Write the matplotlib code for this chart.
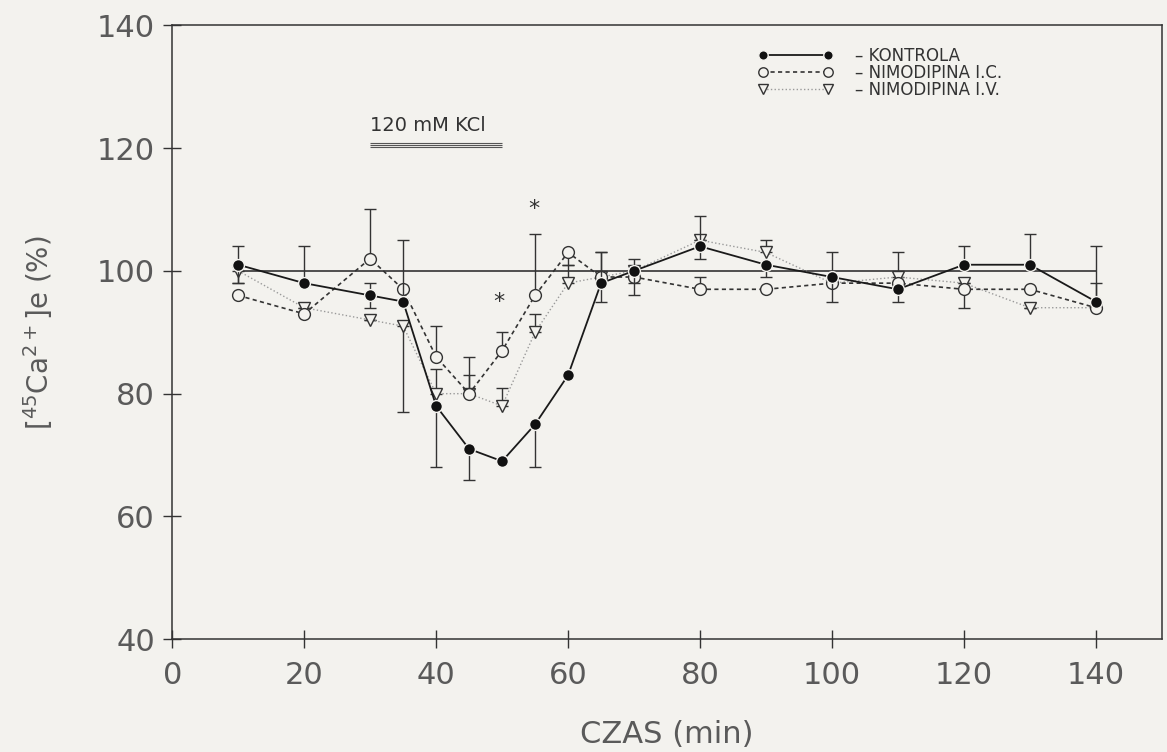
import matplotlib
matplotlib.use("Agg")
import matplotlib.pyplot as plt

# czas (min)
czas = [10, 20, 30, 35, 40, 45, 50, 55, 60, 65, 70, 80, 90, 100, 110, 120, 130, 140]

kontrola = [101, 98, 96, 95, 78, 71, 69, 75, 83, 98, 100, 104, 101, 99, 97, 101, 101, 95]
kontrola_lo = [3, 0, 2, 0, 10, 5, 0, 7, 0, 3, 2, 2, 2, 4, 2, 0, 0, 0]
kontrola_hi = [3, 6, 2, 10, 0, 0, 0, 0, 0, 5, 2, 5, 0, 4, 0, 3, 5, 9]

nimo_ic = [96, 93, 102, 97, 86, 80, 87, 96, 103, 99, 99, 97, 97, 98, 98, 97, 97, 94]
nimo_ic_lo = [0, 0, 0, 0, 0, 0, 0, 0, 2, 0, 3, 0, 0, 0, 0, 3, 0, 0]
nimo_ic_hi = [0, 0, 8, 0, 5, 6, 3, 10, 0, 4, 0, 2, 0, 0, 0, 0, 0, 0]

nimo_iv = [100, 94, 92, 91, 80, 80, 78, 90, 98, 99, 100, 105, 103, 98, 99, 98, 94, 94]
nimo_iv_lo = [2, 0, 0, 14, 0, 0, 0, 0, 0, 0, 0, 0, 0, 0, 0, 0, 0, 0]
nimo_iv_hi = [0, 0, 0, 0, 4, 3, 3, 3, 3, 0, 0, 0, 2, 0, 4, 0, 0, 4]

# significance stars (x, y)
gwiazdki_x = [49.5, 54.8]
gwiazdki_y = [95, 110]

kcl_start, kcl_end, kcl_y = 30, 50, 120.5

bg = "#f3f2ee"
fig = plt.figure(figsize=(11.67, 7.52), dpi=100, facecolor=bg)
ax = fig.add_axes([0.1476, 0.1499, 0.8479, 0.8165])
ax.set_facecolor(bg)

ax.hlines(100, czas[0], czas[-1], color="#333333", lw=1.2, zorder=1)

err_style = dict(ecolor="#333333", elinewidth=1.0, capsize=4, capthick=1.0)
e_iv = ax.errorbar(czas, nimo_iv, yerr=[nimo_iv_lo, nimo_iv_hi], fmt="v", ls=":",
                   color="#9a9a9a", lw=1.0, ms=8.5, mfc=bg, mec="#333333",
                   mew=1.0, zorder=2, **err_style)
e_ic = ax.errorbar(czas, nimo_ic, yerr=[nimo_ic_lo, nimo_ic_hi], fmt="o", ls=(0, (2.5, 2)),
                   color="#333333", lw=1.2, ms=8.5, mfc=bg, mec="#333333",
                   mew=1.0, zorder=3, **err_style)
e_k = ax.errorbar(czas, kontrola, yerr=[kontrola_lo, kontrola_hi], fmt="o", ls="-",
                  color="#1a1a1a", lw=1.3, ms=8.5, mfc="#111111", mec=bg,
                  mew=1.0, zorder=4, **err_style)

for gx, gy in zip(gwiazdki_x, gwiazdki_y):
    ax.text(gx, gy, "*", ha="center", va="center", fontsize=16, color="#333333")

# 120 mM KCl bar
for dy in (-0.3, 0.0, 0.3):
    ax.hlines(kcl_y + dy, kcl_start, kcl_end, color="#555555", lw=0.8)
ax.text(kcl_start, kcl_y + 1.6, "120 mM KCl", ha="left", va="bottom",
        fontsize=14, color="#333333")

ax.set_xlim(0, 150)
ax.set_ylim(40, 140)
ax.set_xticks(range(0, 141, 20))
ax.set_yticks(range(40, 141, 20))
ax.tick_params(direction="inout", length=13, width=1, color="#333333")
ax.tick_params(axis="x", pad=9)
ax.tick_params(axis="y", pad=6)
for lab in ax.get_xticklabels() + ax.get_yticklabels():
    lab.set_fontsize(22)
    lab.set_color("#5a5a5a")
for s in ax.spines.values():
    s.set_color("#333333")
    s.set_linewidth(1.1)

ax.set_xlabel("CZAS (min)", fontsize=22, color="#5a5a5a", labelpad=22)
ax.set_ylabel(r"[$^{45}$Ca$^{2+}$]e (%)", fontsize=20, color="#5a5a5a", labelpad=30)

leg = ax.legend([e_k[0], e_ic[0], e_iv[0]],
                ["– KONTROLA", "– NIMODIPINA I.C.", "– NIMODIPINA I.V."],
                loc="upper left", bbox_to_anchor=(0.592, 0.965), frameon=False,
                numpoints=2, handlelength=4.5, handletextpad=1.3, labelspacing=-0.05,
                borderpad=0, borderaxespad=0, fontsize=12, markerscale=0.8)
for t in leg.get_texts():
    t.set_color("#333333")

fig.savefig("out.png", dpi=100, facecolor=fig.get_facecolor())
